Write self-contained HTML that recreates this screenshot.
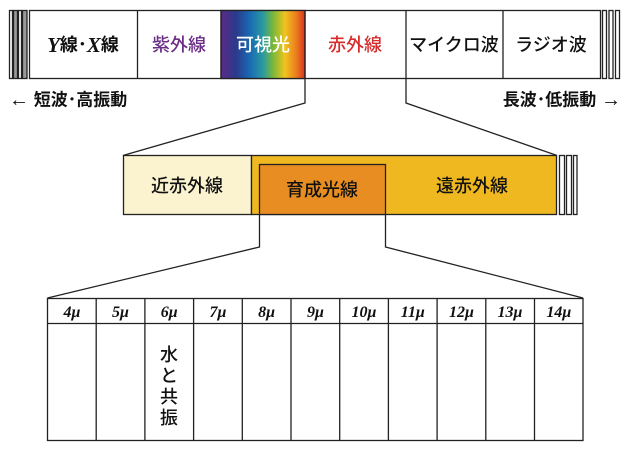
<!DOCTYPE html>
<html><head><meta charset="utf-8"><style>
html,body{margin:0;padding:0;background:#fff;}
svg{display:block;}
text{font-family:"Liberation Sans","Noto Sans CJK JP",sans-serif;font-weight:500;}
.bold{font-weight:bold;}
.b{font-family:"Liberation Serif","Noto Sans CJK JP",serif;font-weight:bold;font-style:italic;}
</style></head><body>
<svg width="630" height="457" viewBox="0 0 630 457" xmlns="http://www.w3.org/2000/svg">
<defs>
<linearGradient id="vis" x1="0" x2="1" y1="0" y2="0">
<stop offset="0" stop-color="#5b2a86"/>
<stop offset="0.18" stop-color="#2a3a8c"/>
<stop offset="0.35" stop-color="#1a6cb4"/>
<stop offset="0.5" stop-color="#2a9aa0"/>
<stop offset="0.62" stop-color="#7ab83a"/>
<stop offset="0.76" stop-color="#f0c420"/>
<stop offset="0.9" stop-color="#ec7a1e"/>
<stop offset="1" stop-color="#d8321e"/>
</linearGradient>
</defs>
<g stroke="#222" stroke-width="1.3" fill="none">
<rect x="9.5" y="10.5" width="3" height="68" fill="#fff"/>
<rect x="13.5" y="10.5" width="4" height="68" fill="#999"/>
<rect x="18.5" y="10.5" width="3" height="68" fill="#fff"/>
<rect x="22.5" y="10.5" width="4.5" height="68" fill="#999"/>
<rect x="29.5" y="10.5" width="571" height="68" fill="#fff"/>
<rect x="221" y="10.5" width="84" height="68" fill="url(#vis)"/>
<line x1="137.5" y1="10.5" x2="137.5" y2="78.5"/>
<line x1="221" y1="10.5" x2="221" y2="78.5"/>
<line x1="305" y1="10.5" x2="305" y2="78.5"/>
<line x1="406" y1="10.5" x2="406" y2="78.5"/>
<line x1="503" y1="10.5" x2="503" y2="78.5"/>
<rect x="602.5" y="10.5" width="4" height="68" fill="#fff"/>
<rect x="609" y="10.5" width="4" height="68" fill="#fff"/>
<rect x="615.5" y="10.5" width="4" height="68" fill="#fff"/>
<polyline points="305,78.5 305,103 123,155.5"/>
<polyline points="406,78.5 406,103 557,155.5"/>
<rect x="123.5" y="155.5" width="128" height="59" fill="#fbf3cf"/>
<rect x="251.5" y="155.5" width="305" height="59" fill="#efb821"/>
<rect x="259.5" y="164.5" width="126" height="50" fill="#e78d22"/>
<rect x="559.5" y="155.5" width="5" height="59" fill="#fff"/>
<rect x="566.5" y="155.5" width="5" height="59" fill="#fff"/>
<rect x="573.5" y="155.5" width="3.5" height="59" fill="#fff"/>
<polyline points="259.5,214.5 259.5,247 47.5,298"/>
<polyline points="385.5,214.5 385.5,247 583,298"/>
<rect x="47.5" y="298.5" width="535.5" height="142" fill="#fff"/>
<line x1="47.5" y1="323.5" x2="583" y2="323.5"/>
<line x1="96.2" y1="298.5" x2="96.2" y2="440.5"/>
<line x1="144.9" y1="298.5" x2="144.9" y2="440.5"/>
<line x1="193.6" y1="298.5" x2="193.6" y2="440.5"/>
<line x1="242.3" y1="298.5" x2="242.3" y2="440.5"/>
<line x1="291" y1="298.5" x2="291" y2="440.5"/>
<line x1="339.7" y1="298.5" x2="339.7" y2="440.5"/>
<line x1="388.4" y1="298.5" x2="388.4" y2="440.5"/>
<line x1="437.1" y1="298.5" x2="437.1" y2="440.5"/>
<line x1="485.8" y1="298.5" x2="485.8" y2="440.5"/>
<line x1="534.5" y1="298.5" x2="534.5" y2="440.5"/>
</g>
<g font-size="18" text-anchor="middle" dominant-baseline="central">
<text x="83" y="45" fill="#111" class="bold"><tspan class="b" font-size="21">Y</tspan>線･<tspan class="b" font-size="21">X</tspan>線</text>
<text x="179" y="45" fill="#6b2d86">紫外線</text>
<text x="263" y="45" fill="#fff">可視光</text>
<text x="355" y="45" fill="#d62c2c">赤外線</text>
<text x="454" y="45" fill="#111">マイクロ波</text>
<text x="551" y="45" fill="#111">ラジオ波</text>
<text x="9" y="100" text-anchor="start" fill="#111" class="bold" font-size="17"><tspan font-size="20">←</tspan> 短波･高振動</text>
<text x="621" y="100" text-anchor="end" fill="#111" class="bold" font-size="17">長波･低振動 <tspan font-size="20">→</tspan></text>
<text x="187" y="186" fill="#111">近赤外線</text>
<text x="322" y="190" fill="#111">育成光線</text>
<text x="472" y="186" fill="#111">遠赤外線</text>
</g>
<g font-size="16" text-anchor="middle" fill="#111">
<text x="72" y="317" class="b">4μ</text>
<text x="120.5" y="317" class="b">5μ</text>
<text x="169.2" y="317" class="b">6μ</text>
<text x="218" y="317" class="b">7μ</text>
<text x="266.6" y="317" class="b">8μ</text>
<text x="315.4" y="317" class="b">9μ</text>
<text x="364" y="317" class="b">10μ</text>
<text x="412.8" y="317" class="b">11μ</text>
<text x="461.4" y="317" class="b">12μ</text>
<text x="510" y="317" class="b">13μ</text>
<text x="558.8" y="317" class="b">14μ</text>
</g>
<g font-size="18" text-anchor="middle" fill="#111">
<text x="169" y="361">水</text>
<text x="169" y="382">と</text>
<text x="169" y="403">共</text>
<text x="169" y="424">振</text>
</g>
</svg>
</body></html>
